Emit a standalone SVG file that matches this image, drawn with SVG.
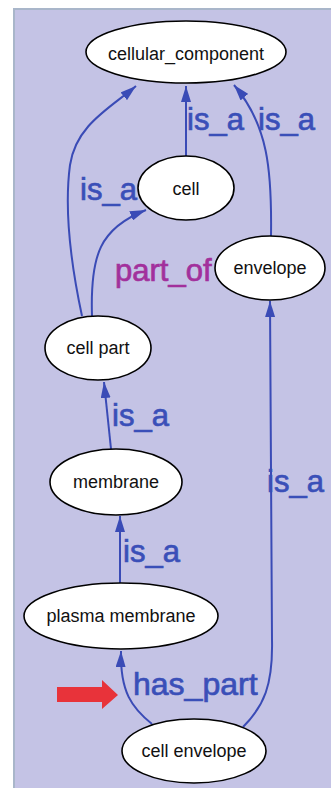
<svg xmlns="http://www.w3.org/2000/svg" width="331" height="788" viewBox="0 0 331 788">
<style>
.edge{fill:none;stroke:#3a4bb6;stroke-width:2;marker-end:url(#arr)}
.node ellipse{fill:#fff;stroke:#000;stroke-width:1.6}
.node text{font-family:"Liberation Sans",Arial,sans-serif;font-size:18px;fill:#111;text-anchor:middle}
.lbl{font-family:"Liberation Sans",Arial,sans-serif;font-size:31px;fill:#3a4fb8;stroke:#3a4fb8;stroke-width:0.7}
.pof{fill:#a2309c;stroke:#a2309c}
</style>
<defs>
<marker id="arr" viewBox="0 0 16 10" refX="16" refY="5" markerWidth="16" markerHeight="10" markerUnits="userSpaceOnUse" orient="auto">
<path d="M0,0 L16,5 L0,10 z" fill="#3a4bb6"/>
</marker>
</defs>
<rect x="0" y="0" width="331" height="788" fill="#fff"/>
<rect x="14" y="9" width="330" height="790" fill="#c4c3e5" stroke="#a9b6ca" stroke-width="2"/>
<g id="connectors">
<path class="edge" d="M186,156 L186,86"/>
<path class="edge" d="M271,236 C272,170 268,125 234,85"/>
<path class="edge" d="M82,316 C70,260 64,210 70,165 C76,125 110,108 136,86"/>
<path class="edge" d="M92,316 C90,255 100,228 146,210"/>
<path class="edge" d="M111,449 L104,382"/>
<path class="edge" d="M120,583 L120,516"/>
<path class="edge" d="M243,727 C264,706 273,685 272,640 L270,301"/>
<path class="edge" d="M152,724 C132,708 120,692 121,651"/>
<text class="lbl" x="187" y="130">is_a</text>
<text class="lbl" x="258" y="130">is_a</text>
<text class="lbl" x="80" y="200">is_a</text>
<text class="lbl pof" x="115" y="281">part_of</text>
<text class="lbl" x="112" y="426">is_a</text>
<text class="lbl" x="267" y="492">is_a</text>
<text class="lbl" x="123" y="562">is_a</text>
<text class="lbl" x="133" y="695" style="font-size:32px">has_part</text>
</g>
<g id="cellular_component" class="node"><ellipse cx="186" cy="52" rx="100" ry="31"/><text x="186" y="60">cellular_component</text></g>
<g id="cell" class="node"><ellipse cx="186" cy="188" rx="48" ry="32"/><text x="186" y="195">cell</text></g>
<g id="envelope" class="node"><ellipse cx="270" cy="268" rx="55" ry="32"/><text x="270" y="274">envelope</text></g>
<g id="cell_part" class="node"><ellipse cx="98" cy="348" rx="53" ry="32"/><text x="98" y="354">cell part</text></g>
<g id="membrane" class="node"><ellipse cx="116" cy="482" rx="66" ry="33"/><text x="116" y="488">membrane</text></g>
<g id="plasma_membrane" class="node"><ellipse cx="121" cy="616" rx="97" ry="33"/><text x="121" y="622">plasma membrane</text></g>
<g id="cell_envelope" class="node"><ellipse cx="194" cy="751" rx="72" ry="32"/><text x="194" y="757">cell envelope</text></g>
<polygon id="red_arrow" points="57,687 102,687 102,680 118,695 102,709 102,702 57,702" fill="#e8333a"/>
</svg>
